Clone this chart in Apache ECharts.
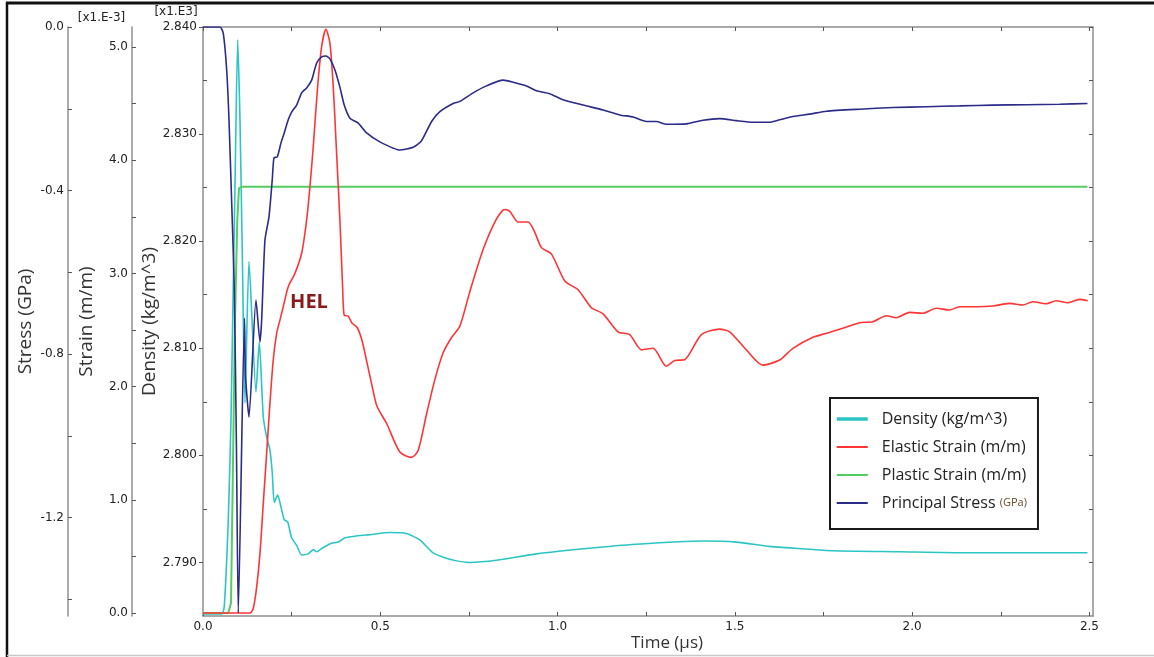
<!DOCTYPE html>
<html>
<head>
<meta charset="utf-8">
<script src="https://cdn.jsdelivr.net/npm/echarts@6/dist/echarts.min.js"></script>
<style>
html,body{margin:0;padding:0;background:#fff;}
#c{width:1154px;height:657px;}
</style>
</head>
<body>
<div id="c"></div>
<script>
// ---------- DATA ----------
const densityT = [0, 0.0527, 0.0600, 0.0713, 0.0789, 0.0837, 0.0902, 0.0978, 0.1043, 0.1108, 0.1184, 0.1297, 0.1494, 0.1587, 0.1700, 0.1795, 0.1888, 0.1953, 0.2010, 0.2105, 0.2198, 0.2291, 0.2387, 0.2500, 0.2641, 0.2782, 0.2968, 0.3109, 0.3205, 0.3391, 0.3627, 0.3813, 0.4002, 0.4369, 0.4707, 0.5271, 0.5741, 0.6116, 0.6491, 0.6962, 0.7525, 0.8278, 0.9405, 1.0815, 1.2224, 1.4101, 1.5042, 1.5981, 1.6826, 1.7756, 1.9645, 2.1525, 2.3393, 2.4944];
const densityV = [2.7852, 2.7852, 2.7859, 2.7940, 2.8033, 2.8126, 2.8251, 2.8388, 2.8313, 2.8189, 2.8049, 2.8181, 2.8059, 2.8106, 2.8036, 2.8017, 2.8005, 2.7984, 2.7956, 2.7963, 2.7952, 2.7940, 2.7938, 2.7923, 2.7916, 2.7907, 2.7908, 2.7912, 2.7910, 2.7914, 2.7918, 2.7919, 2.7923, 2.7925, 2.7926, 2.7928, 2.7927, 2.7921, 2.7909, 2.7903, 2.7900, 2.7902, 2.7908, 2.7913, 2.7917, 2.7920, 2.7919, 2.7915, 2.7913, 2.7911, 2.7910, 2.7909, 2.7909, 2.7909];

const elasticT = [0, 0.1325, 0.1418, 0.1514, 0.1607, 0.1700, 0.1795, 0.1888, 0.1981, 0.2077, 0.2170, 0.2263, 0.2404, 0.2593, 0.2782, 0.2923, 0.3016, 0.3109, 0.3233, 0.3346, 0.3467, 0.3580, 0.3673, 0.3768, 0.3861, 0.3937, 0.3983, 0.4095, 0.4200, 0.4340, 0.4481, 0.4622, 0.4763, 0.4904, 0.5186, 0.5552, 0.5882, 0.6068, 0.6305, 0.6539, 0.6773, 0.7010, 0.7244, 0.7525, 0.7900, 0.8278, 0.8512, 0.8653, 0.8887, 0.9169, 0.9357, 0.9546, 0.9828, 1.0203, 1.0578, 1.0955, 1.1283, 1.1705, 1.2035, 1.2365, 1.2692, 1.3069, 1.3303, 1.3585, 1.4056, 1.4572, 1.4854, 1.5324, 1.5792, 1.6263, 1.6637, 1.7201, 1.7579, 1.8047, 1.8517, 1.8892, 1.9270, 1.9551, 1.9927, 2.0302, 2.0679, 2.1054, 2.1336, 2.1807, 2.2275, 2.2745, 2.3120, 2.3402, 2.3780, 2.4062, 2.4389, 2.4718, 2.4952];
const elasticV = [0, 0, 0.042, 0.232, 0.527, 0.969, 1.411, 1.852, 2.235, 2.471, 2.588, 2.706, 2.883, 3.001, 3.178, 3.472, 3.766, 4.119, 4.649, 5.003, 5.156, 5.033, 4.649, 4.061, 3.472, 2.883, 2.630, 2.624, 2.562, 2.527, 2.412, 2.217, 2.014, 1.829, 1.670, 1.422, 1.375, 1.436, 1.758, 2.062, 2.299, 2.434, 2.535, 2.839, 3.211, 3.481, 3.565, 3.549, 3.454, 3.454, 3.363, 3.228, 3.171, 2.934, 2.856, 2.697, 2.643, 2.484, 2.460, 2.325, 2.339, 2.180, 2.231, 2.238, 2.460, 2.508, 2.484, 2.325, 2.190, 2.235, 2.338, 2.436, 2.471, 2.515, 2.565, 2.573, 2.626, 2.609, 2.656, 2.648, 2.692, 2.677, 2.706, 2.706, 2.712, 2.736, 2.721, 2.750, 2.732, 2.759, 2.741, 2.771, 2.759];

const plasticT = [0, 0.0713, 0.0789, 0.0837, 0.0902, 0.0967, 0.1015, 0.1091, 0.5, 1.0, 1.5, 2.0, 2.4944];
const plasticV = [0, 0, 0.088, 1.113, 2.588, 3.472, 3.752, 3.766, 3.766, 3.766, 3.766, 3.766, 3.766];

const stressT = [0, 0.0479, 0.0572, 0.0668, 0.0733, 0.0809, 0.0882, 0.0944, 0.0995, 0.1170, 0.1198, 0.1297, 0.1494, 0.1607, 0.1654, 0.1747, 0.1860, 0.1953, 0.2001, 0.2094, 0.2198, 0.2291, 0.2404, 0.2500, 0.2641, 0.2782, 0.2923, 0.3064, 0.3205, 0.3346, 0.3467, 0.3580, 0.3721, 0.3861, 0.3983, 0.4143, 0.4377, 0.4614, 0.4989, 0.5552, 0.5927, 0.6164, 0.6446, 0.6680, 0.7055, 0.7244, 0.7618, 0.7996, 0.8464, 0.8746, 0.9124, 0.9405, 0.9780, 1.0155, 1.0719, 1.1283, 1.1753, 1.2128, 1.2506, 1.2787, 1.3069, 1.3633, 1.4101, 1.4572, 1.5042, 1.5510, 1.5981, 1.6263, 1.6637, 1.7108, 1.7579, 1.8517, 1.9456, 2.0397, 2.1336, 2.2275, 2.3216, 2.4155, 2.4944];
const stressV = [0, 0, -0.0154, -0.105, -0.227, -0.430, -0.636, -1.034, -1.433, -0.712, -0.851, -0.954, -0.668, -0.770, -0.717, -0.521, -0.465, -0.374, -0.320, -0.318, -0.284, -0.259, -0.227, -0.208, -0.191, -0.161, -0.149, -0.130, -0.088, -0.073, -0.071, -0.078, -0.105, -0.147, -0.191, -0.223, -0.235, -0.259, -0.281, -0.301, -0.294, -0.278, -0.231, -0.207, -0.187, -0.182, -0.161, -0.144, -0.130, -0.135, -0.144, -0.156, -0.163, -0.178, -0.191, -0.203, -0.215, -0.220, -0.231, -0.231, -0.238, -0.237, -0.228, -0.224, -0.229, -0.233, -0.233, -0.227, -0.219, -0.213, -0.206, -0.201, -0.197, -0.195, -0.193, -0.191, -0.190, -0.189, -0.187];

// tick labels / tick positions
const timeLabels = [0, 0.5, 1.0, 1.5, 2.0, 2.5];
const timeTicks = [0, 0.25, 0.5, 0.75, 1.0, 1.25, 1.5, 1.75, 2.0, 2.25, 2.5];
const densityLabels = [2.790, 2.800, 2.810, 2.820, 2.830, 2.840];
const densityMinorTicks = [2.795, 2.805, 2.815, 2.825, 2.835];
const densityAllTicks = [2.790, 2.795, 2.800, 2.805, 2.810, 2.815, 2.820, 2.825, 2.830, 2.835, 2.840];
const strainLabels = [0, 1, 2, 3, 4, 5];
const strainTicks = [0, 0.5, 1, 1.5, 2, 2.5, 3, 3.5, 4, 4.5, 5];
const stressLabels = [0, -0.4, -0.8, -1.2];
const stressTicks = [0, -0.2, -0.4, -0.6, -0.8, -1.0, -1.2, -1.4];

const seriesNames = ['Density (kg/m^3)', 'Elastic Strain (m/m)', 'Plastic Strain (m/m)', 'Principal Stress (GPa)'];
const helAnnotation = { text: 'HEL', t: 0.299, strain: 2.747 };

// ---------- CHART ----------
const zip = (a, b) => a.map((v, i) => [v, b[i]]);
const AX = '#8f8f8f';
const TICK = '#555';
const LBL = { fontFamily: 'DejaVu Sans', fontSize: 12, color: '#222' };
const NAME = { fontFamily: 'Open Sans', fontSize: 19, color: '#333' };

function yAx(o) {
  return Object.assign({
    type: 'value', position: 'left', offset: 0, scale: true,
    axisLine: { show: true, onZero: false, lineStyle: { color: AX, width: 1.5 } },
    axisTick: { show: true, inside: true, length: 4, lineStyle: { color: TICK, width: 1 } },
    axisLabel: { show: true, margin: 4, ...LBL },
    splitLine: { show: false },
    nameLocation: 'middle', nameTextStyle: NAME, nameMoveOverlap: false
  }, o);
}

const option = {
  backgroundColor: '#ffffff',
  animation: false,
  grid: { left: 203, right: 61, top: 27, bottom: 41, containLabel: false, outerBoundsMode: 'none' },
  xAxis: [
    {
      type: 'value', position: 'bottom', min: 0, max: 2.51,
      axisLine: { show: true, onZero: false, lineStyle: { color: AX, width: 1.5 } },
      axisTick: { show: true, inside: true, length: 4, customValues: timeTicks, lineStyle: { color: TICK } },
      axisLabel: { customValues: timeLabels, formatter: v => v.toFixed(1), margin: 5, ...LBL },
      splitLine: { show: false },
      name: 'Time (µs)', nameLocation: 'middle', nameGap: 19, nameMoveOverlap: false,
      nameTextStyle: { fontFamily: 'Open Sans', fontSize: 17, color: '#333', padding: [0, 0, 0, 38] }
    },
    {
      type: 'value', position: 'top', min: 0, max: 2.51,
      axisLine: { show: true, onZero: false, lineStyle: { color: AX, width: 1.5 } },
      axisTick: { show: true, inside: true, length: 4, customValues: timeTicks, lineStyle: { color: TICK } },
      axisLabel: { show: false }, splitLine: { show: false }
    }
  ],
  yAxis: [
    yAx({ min: 2.785, max: 2.840,
      axisTick: { show: true, inside: false, length: 4, customValues: densityLabels, lineStyle: { color: TICK } },
      axisLabel: { customValues: densityLabels, formatter: v => v.toFixed(3), margin: 6, ...LBL },
      name: 'Density (kg/m^3)', nameGap: 44 }),
    yAx({ min: -0.026, max: 5.177, offset: 71,
      axisTick: { show: true, inside: true, length: 4, customValues: strainTicks, lineStyle: { color: TICK } },
      axisLabel: { customValues: strainLabels, formatter: v => v.toFixed(1), margin: 4, ...LBL },
      name: 'Strain (m/m)', nameGap: 36 }),
    yAx({ min: -1.4405, max: 0, offset: 135,
      axisTick: { show: true, inside: true, length: 4, customValues: stressTicks, lineStyle: { color: TICK } },
      axisLabel: { customValues: stressLabels, formatter: v => v.toFixed(1), margin: 4, ...LBL },
      name: 'Stress (GPa)', nameGap: 33 }),
    yAx({ min: 2.785, max: 2.840,
      axisLine: { show: false, onZero: false },
      axisTick: { show: true, inside: true, length: 4, customValues: densityMinorTicks, lineStyle: { color: TICK } },
      axisLabel: { show: false } }),
    yAx({ min: 2.785, max: 2.840, position: 'right',
      axisTick: { show: true, inside: true, length: 4, customValues: densityAllTicks, lineStyle: { color: TICK } },
      axisLabel: { show: false } })
  ],
  legend: {
    orient: 'vertical', left: 830, top: 398,
    padding: [13, 11, 18, 5],
    itemWidth: 31, itemHeight: 14, itemGap: 12,
    borderColor: '#1a1a1a', borderWidth: 2, backgroundColor: '#ffffff',
    selectedMode: false,
    itemStyle: { opacity: 0 },
    textStyle: {
      fontFamily: 'Open Sans', fontSize: 16, color: '#222', padding: [0, 0, 0, 9],
      rich: { u: { fontFamily: 'Open Sans', fontSize: 11, color: '#6b4a2a' } }
    },
    formatter: n => n.replace('(GPa)', '{u|(GPa)}'),
    data: [
      { name: seriesNames[0], lineStyle: { width: 3.5 } },
      seriesNames[1], seriesNames[2], seriesNames[3]
    ]
  },
  series: [
    { name: seriesNames[0], type: 'line', xAxisIndex: 0, yAxisIndex: 0, data: zip(densityT, densityV),
      symbol: 'none', smooth: 0.2, lineStyle: { color: '#2cc5c5', width: 1.6 }, itemStyle: { color: '#2cc5c5' }, z: 2 },
    { name: seriesNames[1], type: 'line', xAxisIndex: 0, yAxisIndex: 1, data: zip(elasticT, elasticV),
      symbol: 'none', smooth: 0.25, lineStyle: { color: '#ff3535', width: 1.6 }, itemStyle: { color: '#ff3535' }, z: 3,
      markPoint: {
        silent: true, symbol: 'circle', symbolSize: 1,
        itemStyle: { color: 'rgba(0,0,0,0)' },
        label: { show: true, position: 'inside', formatter: helAnnotation.text,
          fontFamily: 'Open Sans', fontWeight: 'bold', fontSize: 20, color: '#8b1a1a' },
        data: [{ coord: [helAnnotation.t, helAnnotation.strain] }]
      } },
    { name: seriesNames[2], type: 'line', xAxisIndex: 0, yAxisIndex: 1, data: zip(plasticT, plasticV),
      symbol: 'none', lineStyle: { color: '#55cc60', width: 2 }, itemStyle: { color: '#55cc60' }, z: 2 },
    { name: seriesNames[3], type: 'line', xAxisIndex: 0, yAxisIndex: 2, data: zip(stressT, stressV),
      symbol: 'none', smooth: 0.2, lineStyle: { color: '#2b2b8a', width: 1.6 }, itemStyle: { color: '#1f1f7a' }, z: 4 }
  ],
  graphic: [
    { type: 'line', silent: true, shape: { x1: 6, y1: 3, x2: 1154, y2: 3 }, style: { stroke: '#111', lineWidth: 3 } },
    { type: 'line', silent: true, shape: { x1: 7, y1: 2, x2: 7, y2: 657 }, style: { stroke: '#111', lineWidth: 2.5 } },
    { type: 'line', silent: true, shape: { x1: 7, y1: 655.5, x2: 1154, y2: 655.5 }, style: { stroke: '#c8c8c8', lineWidth: 1.5 } },
    { type: 'text', silent: true, x: 101.5, y: 18,
      style: { text: '[x1.E-3]', fill: '#222', font: '12px "DejaVu Sans"', align: 'center', verticalAlign: 'middle' } },
    { type: 'text', silent: true, x: 176, y: 12,
      style: { text: '[x1.E3]', fill: '#222', font: '12px "DejaVu Sans"', align: 'center', verticalAlign: 'middle' } }
  ]
};

const chart = echarts.init(document.getElementById('c'), null, { renderer: 'canvas' });
chart.setOption(option);
</script>
</body>
</html>
